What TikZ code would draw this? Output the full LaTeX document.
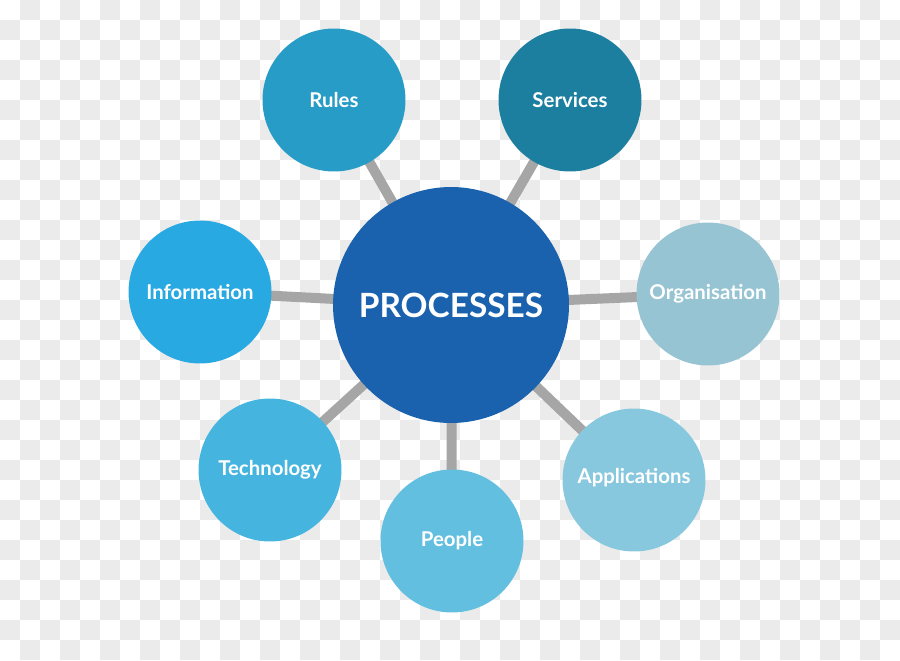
\documentclass[tikz,border=0pt]{standalone}
\usepackage{fontspec}
\setmainfont{Lato}
\definecolor{boardgray}{HTML}{EBEBEB}
\definecolor{linkgray}{HTML}{A6A6A6}
\definecolor{procblue}{HTML}{1A62AE}
\definecolor{rulesblue}{HTML}{279CC6}
\definecolor{servblue}{HTML}{1C7FA0}
\definecolor{infoblue}{HTML}{29A9E1}
\definecolor{orgblue}{HTML}{96C4D2}
\definecolor{techblue}{HTML}{45B5E0}
\definecolor{peopleblue}{HTML}{63BFDF}
\definecolor{appblue}{HTML}{88C8DE}
\pgfdeclarelayer{board}
\pgfdeclarelayer{links}
\pgfsetlayers{board,links,main}
\begin{document}
\begin{tikzpicture}[x=0.02cm,y=-0.02cm,
	bubble/.style={circle,minimum size=2.86cm,inner sep=0pt,text=white,font=\fontsize{11.6}{13}\selectfont\bfseries},
	link/.style={draw=linkgray,line width=0.2cm}]
			\useasboundingbox (0,0) rectangle (900,660);
			%checkered back
			\begin{pgfonlayer}{board}
			\foreach \y in {0,40,...,640} \foreach \x in {20,60,...,880} \fill[boardgray] (\x,\y) rectangle ++(20,20);
			\foreach \y in {20,60,...,620} \foreach \x in {0,40,...,880} \fill[boardgray] (\x,\y) rectangle ++(20,20);
			\end{pgfonlayer}
			%hub and satellites
			\node[bubble,fill=procblue,minimum size=4.72cm,font=\fontsize{19}{22}\selectfont\bfseries] (proc) at (451,305) {PROCESSES};
			\node[bubble,fill=rulesblue] (rules) at (334,100) {Rules};
			\node[bubble,fill=servblue] (serv) at (570,100) {Services};
			\node[bubble,fill=infoblue] (info) at (200,292) {Information};
			\node[bubble,fill=orgblue] (org) at (708,294) {Organisation};
			\node[bubble,fill=techblue] (tech) at (270,470) {Technology};
			\node[bubble,fill=peopleblue] (people) at (452,541) {People};
			\node[bubble,fill=appblue] (app) at (634,480) {\raisebox{5pt}{Applications}};
			\begin{pgfonlayer}{links}
			\foreach \s in {rules,serv,info,org,tech,people,app} \draw[link] (proc.center)--(\s.center);
			\end{pgfonlayer}
		\end{tikzpicture}
\end{document}
